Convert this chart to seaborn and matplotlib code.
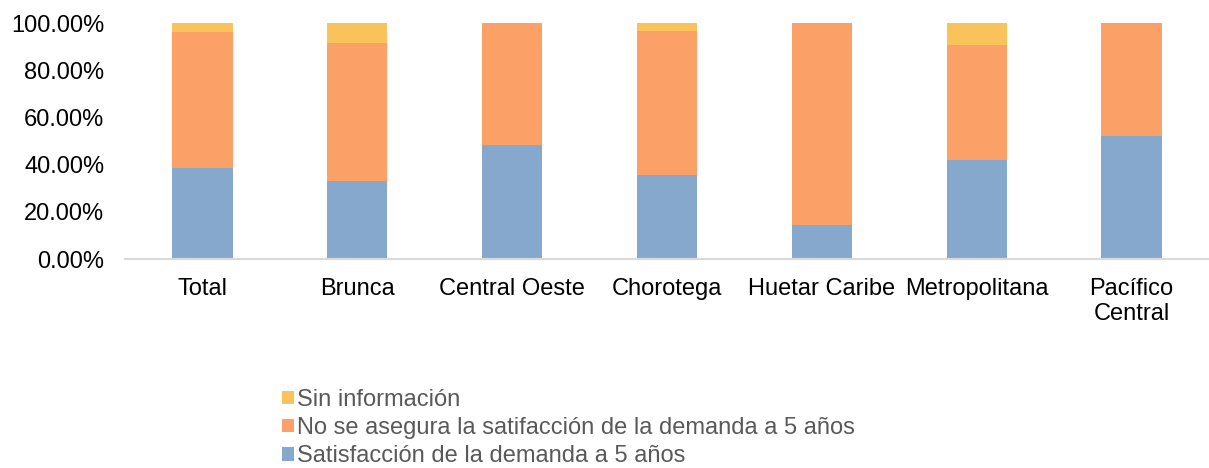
import matplotlib
matplotlib.use("Agg")
import matplotlib.pyplot as plt
import seaborn as sns
import pandas as pd
import numpy as np
from matplotlib.patches import Patch

categories = ["Total", "Brunca", "Central Oeste", "Chorotega", "Huetar Caribe",
              "Metropolitana", "Pacífico\nCentral"]
satisfaccion = [38.7, 33.2, 48.1, 35.5, 14.2, 41.8, 52.2]
no_asegura = [57.3, 58.4, 51.9, 61.2, 85.8, 48.7, 47.8]
sin_info = [4.0, 8.4, 0.0, 3.3, 0.0, 9.5, 0.0]
series_labels = ["Sin información",
                 "No se asegura la satifacción de la demanda a 5 años",
                 "Satisfacción de la demanda a 5 años"]
yticks = [0, 20, 40, 60, 80, 100]

c_blue = "#86A8CC"
c_orange = "#FBA067"
c_yellow = "#F9C35B"

sns.set_theme(style="white")
plt.rcParams["font.family"] = ["Liberation Sans", "DejaVu Sans"]

fig = plt.figure(figsize=(12.09, 4.68), dpi=100)
ax = fig.add_axes([125 / 1209, 1 - 259 / 468, 1 - 125 / 1209, (259 - 23) / 468])

s1 = np.array(satisfaccion)
s2 = s1 + np.array(no_asegura)
s3 = s2 + np.array(sin_info)
df = pd.DataFrame({"cat": categories, "s1": s1, "s2": s2, "s3": s3})

for col, color in [("s3", c_yellow), ("s2", c_orange), ("s1", c_blue)]:
    sns.barplot(data=df, x="cat", y=col, color=color, width=0.39, ax=ax,
                saturation=1, edgecolor="none", linewidth=0)

ax.set_ylim(0, 100)
ax.set_xlim(-0.5, len(categories) - 0.5)
ax.set_yticks(yticks)
ax.set_yticklabels([f"{v:.2f}%" for v in yticks])
ax.set_xlabel("")
ax.set_ylabel("")
ax.tick_params(axis="y", length=0, pad=15, labelsize=17, labelcolor="#000000")
ax.tick_params(axis="x", length=0, pad=14, labelsize=17, labelcolor="#000000")
for lab in ax.get_xticklabels():
    lab.set_linespacing(1.15)

for s in ["top", "right", "left"]:
    ax.spines[s].set_visible(False)
ax.spines["bottom"].set_color("#D9D9D9")
ax.spines["bottom"].set_linewidth(1.5)

handles = [Patch(facecolor=c_yellow, edgecolor="none"),
           Patch(facecolor=c_orange, edgecolor="none"),
           Patch(facecolor=c_blue, edgecolor="none")]
leg = fig.legend(handles, series_labels, loc="upper left",
                 bbox_to_anchor=(282 / 1209, 1 - 389 / 468),
                 frameon=False, fontsize=17, handlelength=0.5, handleheight=0.5,
                 handletextpad=0.12, labelspacing=0.26, borderpad=0, borderaxespad=0)
for t in leg.get_texts():
    t.set_color("#595959")

fig.savefig("out.png", dpi=100)
